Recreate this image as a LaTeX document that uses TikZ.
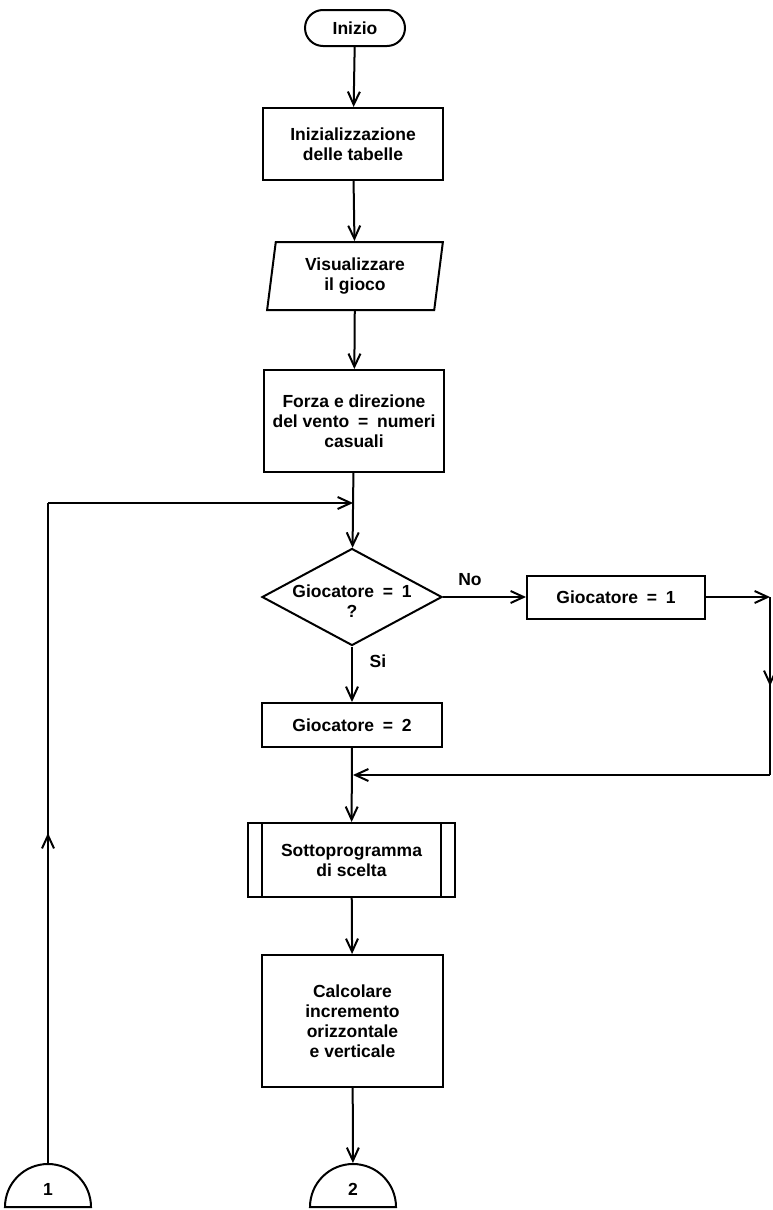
\documentclass[tikz,border=0pt]{standalone}
\usepackage{fontspec}
\setmainfont{Liberation Sans}
\usetikzlibrary{positioning, arrows.meta, shapes.geometric, decorations.markings}

\begin{document}
\begin{tikzpicture}[x=1pt, y=-1pt, >={Straight Barb[length=13pt,width=12pt]},
          line width=2pt,
          base/.style={draw, align=center, inner sep=2pt, font=\fontsize{17.5}{20}\selectfont\bfseries},
          term/.style={base, rounded corners=18pt, minimum width=100pt, minimum height=36pt},
          proc/.style={base, rectangle, minimum width=180pt},
          io/.style={base, trapezium, trapezium left angle=82, trapezium right angle=98,
            trapezium stretches=true, minimum width=176pt, minimum height=68pt},
          decision/.style={draw, diamond, minimum width=180pt, minimum height=97pt, inner sep=0pt},
          subproc/.style={proc, minimum width=207pt, minimum height=74pt},
          conn/.style={base, semicircle, minimum width=86pt, minimum height=43pt, inner sep=0pt, anchor=chord center},
          lbl/.style={font=\fontsize{17.5}{20}\selectfont\bfseries},
          midarrow/.style={postaction={decorate, decoration={markings, mark=at position 0.5 with {\arrow{>}}}}}]
        \useasboundingbox (0,0) rectangle (772,1210);
        \node[term] (start) at (355,28) {Inizio};
        \node[proc, minimum height=72pt] (init) at (353,144) {Inizializzazione\\delle tabelle};
        \node[io] (show) at (355,276) {Visualizzare\\il gioco};
        \node[proc, minimum height=102pt] (wind) at (354,421) {Forza e direzione\\del vento\enspace=\enspace numeri\\casuali};
        \node[decision] (ask) at (352,597) {};
        \node[lbl, align=center] (askt) at (352,601) {Giocatore\enspace=\enspace1\\?};
        \node[proc, minimum width=178pt, minimum height=43pt] (one) at (616,597) {Giocatore\enspace=\enspace1};
        \node[proc, minimum height=44pt] (two) at (352,725) {Giocatore\enspace=\enspace2};
        \node[subproc] (choice) at (351.5,860) {Sottoprogramma\\di scelta};
        \draw ([xshift=15pt]choice.north west) -- ([xshift=15pt]choice.south west);
        \draw ([xshift=-15pt]choice.north east) -- ([xshift=-15pt]choice.south east);
        \node[proc, minimum width=181pt, minimum height=132pt] (calc) at (352.5,1021) {Calcolare\\incremento\\orizzontale\\e verticale};
        \node[conn] (c1) at (48,1208) {1};
        \node[conn] (c2) at (353,1208) {2};
        \node[lbl] (no) at (470,580) {No};
        \node[lbl] (si) at (378,661) {Si};
        \coordinate (loopin) at (353,503);
        \coordinate (ltop) at (48,503);
        \coordinate (join) at (353,775);
        \coordinate (rtop) at (770,597);
        \coordinate (rbot) at (770,775);
        \draw[->] (start) -- (init);
        \draw[->] (init) -- (show);
        \draw[->] (show) -- (wind);
        \draw[->] (wind) -- (ask);
        \draw[->] (ask) -- (one);
        \draw[->] (ask) -- (two);
        \draw[->] (one) -- (rtop);
        \draw[midarrow] (rtop) -- (rbot);
        \draw[->] (rbot) -- (join);
        \draw[->] (two) -- (choice);
        \draw[->] (choice) -- (calc);
        \draw[->] (calc) -- (c2);
        \draw[midarrow] (c1.north) -- (ltop);
        \draw[->] (ltop) -- (loopin);
      \end{tikzpicture}
\end{document}
